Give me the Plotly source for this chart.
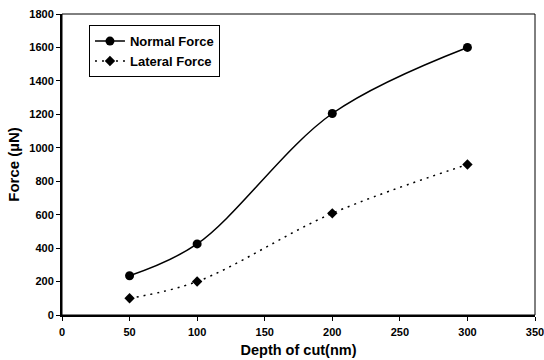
import plotly.graph_objects as go

depth = [50, 100, 200, 300]
normal_force = [235, 425, 1205, 1600]
lateral_force = [100, 200, 608, 900]

x_ticks = [0, 50, 100, 150, 200, 250, 300, 350]
y_ticks = [0, 200, 400, 600, 800, 1000, 1200, 1400, 1600, 1800]

fig = go.Figure()
fig.add_trace(go.Scatter(
    x=depth, y=normal_force, name="Normal Force", mode="lines+markers",
    line=dict(color="black", width=1.5, shape="spline", smoothing=1.0),
    marker=dict(symbol="circle", size=9, color="black"),
))
fig.add_trace(go.Scatter(
    x=depth, y=lateral_force, name="Lateral Force", mode="lines+markers",
    line=dict(color="black", width=1.5, shape="spline", smoothing=1.0, dash="2px,5px"),
    marker=dict(symbol="diamond", size=8, color="black"),
))

font_fam = "Liberation Sans, Arial, sans-serif"
fig.update_layout(
    width=544, height=360,
    margin=dict(l=62, r=9, t=14, b=45),
    paper_bgcolor="white", plot_bgcolor="white",
    font=dict(family=font_fam, color="black", size=11),
    showlegend=True,
    legend=dict(
        x=0.057, y=0.963, xanchor="left", yanchor="top",
        bgcolor="white", bordercolor="black", borderwidth=1,
        font=dict(family=font_fam, size=13, color="black", weight="bold"),
        tracegroupgap=0, itemwidth=30,
    ),
    xaxis=dict(
        range=[0, 350], tickvals=x_ticks, ticktext=[str(v) for v in x_ticks],
        showgrid=False, zeroline=False, showline=True, linecolor="black", linewidth=2,
        ticks="outside", ticklen=4, tickcolor="black", tickwidth=1,
        ticklabeloverflow="allow", ticklabelstandoff=2, automargin=False,
        tickfont=dict(family=font_fam, size=11, weight="bold"),
        title=dict(text="Depth of cut(nm)", font=dict(family=font_fam, size=14.5, weight="bold"), standoff=8),
    ),
    yaxis=dict(
        range=[0, 1800], tickvals=y_ticks, ticktext=[str(v) for v in y_ticks],
        showgrid=False, zeroline=False, showline=True, linecolor="black", linewidth=2,
        ticks="outside", ticklen=4, tickcolor="black", tickwidth=1, automargin=False,
        tickfont=dict(family=font_fam, size=11, weight="bold"),
        title=dict(text="Force (µN)", font=dict(family=font_fam, size=15, weight="bold"), standoff=6),
    ),
    shapes=[dict(type="rect", xref="paper", yref="paper", x0=0, y0=0, x1=1, y1=1,
                 line=dict(color="black", width=1))],
)

fig.write_html("out.html")
